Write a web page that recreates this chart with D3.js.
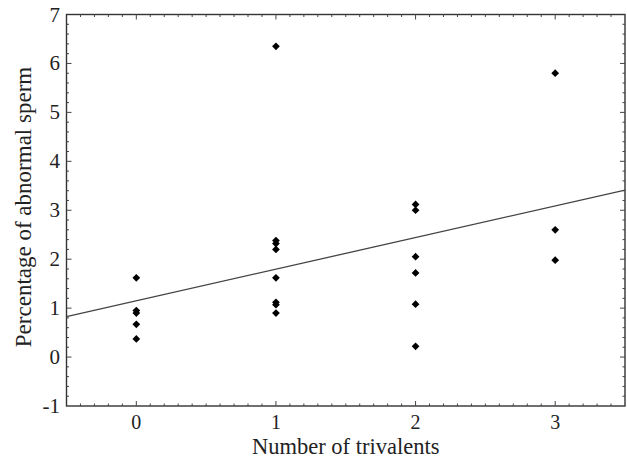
<!DOCTYPE html>
<html><head><meta charset="utf-8">
<script src="https://cdn.jsdelivr.net/npm/d3@7"></script>
<style>body{margin:0;background:#fff}svg{display:block}text{font-family:"Liberation Serif","Times New Roman",serif;fill:#222}</style>
</head><body><svg id="c" width="627" height="459"></svg>
<script>
const xCats = [0, 1, 2, 3];
const xTickLabels = ["0", "1", "2", "3"];
const yTickValues = [-1, 0, 1, 2, 3, 4, 5, 6, 7];
const trivalents = [0,0,0,0,0, 1,1,1,1,1,1,1,1, 2,2,2,2,2,2, 3,3,3];
const abnormal = [1.62,0.95,0.90,0.67,0.37, 6.35,2.38,2.32,2.20,1.62,1.12,1.07,0.90, 3.12,3.00,2.05,1.72,1.08,0.22, 5.80,2.60,1.98];

const svg = d3.select("#c");
const L = 66.5, R = 625, T = 14.5, B = 406;
const x = d3.scaleLinear().domain([-0.5, 3.5]).range([L, R]);
const y = d3.scaleLinear().domain([-1, 7]).range([B, T]);

// frame
svg.append("rect").attr("x", L).attr("y", T).attr("width", R - L).attr("height", B - T)
  .attr("fill", "none").attr("stroke", "#333").attr("stroke-width", 1.4);

// ticks
const xMinor = d3.range(-0.4, 3.45, 0.1).map(v => +v.toFixed(2));
const yMinor = d3.range(-0.8, 6.9, 0.2).map(v => +v.toFixed(2));
const g = svg.append("g").attr("stroke", "#444").attr("stroke-width", 1);
xMinor.forEach(v => {
  const major = Math.abs(v - Math.round(v)) < 1e-6;
  const len = major ? 5 : 2.5;
  g.append("line").attr("x1", x(v)).attr("x2", x(v)).attr("y1", B).attr("y2", B - len);
  g.append("line").attr("x1", x(v)).attr("x2", x(v)).attr("y1", T).attr("y2", T + len);
});
yMinor.forEach(v => {
  const major = Math.abs(v - Math.round(v)) < 1e-6;
  const len = major ? 5 : 2.5;
  g.append("line").attr("y1", y(v)).attr("y2", y(v)).attr("x1", L).attr("x2", L + len);
  g.append("line").attr("y1", y(v)).attr("y2", y(v)).attr("x1", R).attr("x2", R - len);
});

// tick labels
svg.append("g").selectAll("text").data(xCats).join("text")
  .attr("x", d => x(d)).attr("y", 429).attr("text-anchor", "middle")
  .attr("font-size", 20).text((d, i) => xTickLabels[i]);
svg.append("g").selectAll("text").data(yTickValues).join("text")
  .attr("x", 60).attr("y", d => y(d) + 7).attr("text-anchor", "end")
  .attr("font-size", 21).text(d => d);

// axis titles
svg.append("text").attr("x", x(1.5)).attr("y", 453.5).attr("text-anchor", "middle")
  .attr("font-size", 22.5).text("Number of trivalents");
svg.append("text").attr("transform", "translate(31,207) rotate(-90)")
  .attr("text-anchor", "middle").attr("font-size", 23).text("Percentage of abnormal sperm");

// regression line
const n = trivalents.length;
const mx = d3.mean(trivalents), my = d3.mean(abnormal);
let sxy = 0, sxx = 0;
for (let i = 0; i < n; i++) { sxy += (trivalents[i] - mx) * (abnormal[i] - my); sxx += (trivalents[i] - mx) ** 2; }
const slope = sxy / sxx, icpt = my - slope * mx;
svg.append("line").attr("x1", x(-0.5)).attr("y1", y(icpt + slope * -0.5))
  .attr("x2", x(3.5)).attr("y2", y(icpt + slope * 3.5))
  .attr("stroke", "#444").attr("stroke-width", 1.3);

// points
const sym = d3.symbol().type(d3.symbolSquare).size(30);
svg.append("g").selectAll("path").data(abnormal).join("path")
  .attr("d", sym).attr("fill", "#000")
  .attr("transform", (d, i) => "translate(" + x(trivalents[i]) + "," + y(d) + ") rotate(45)");
</script></body></html>
